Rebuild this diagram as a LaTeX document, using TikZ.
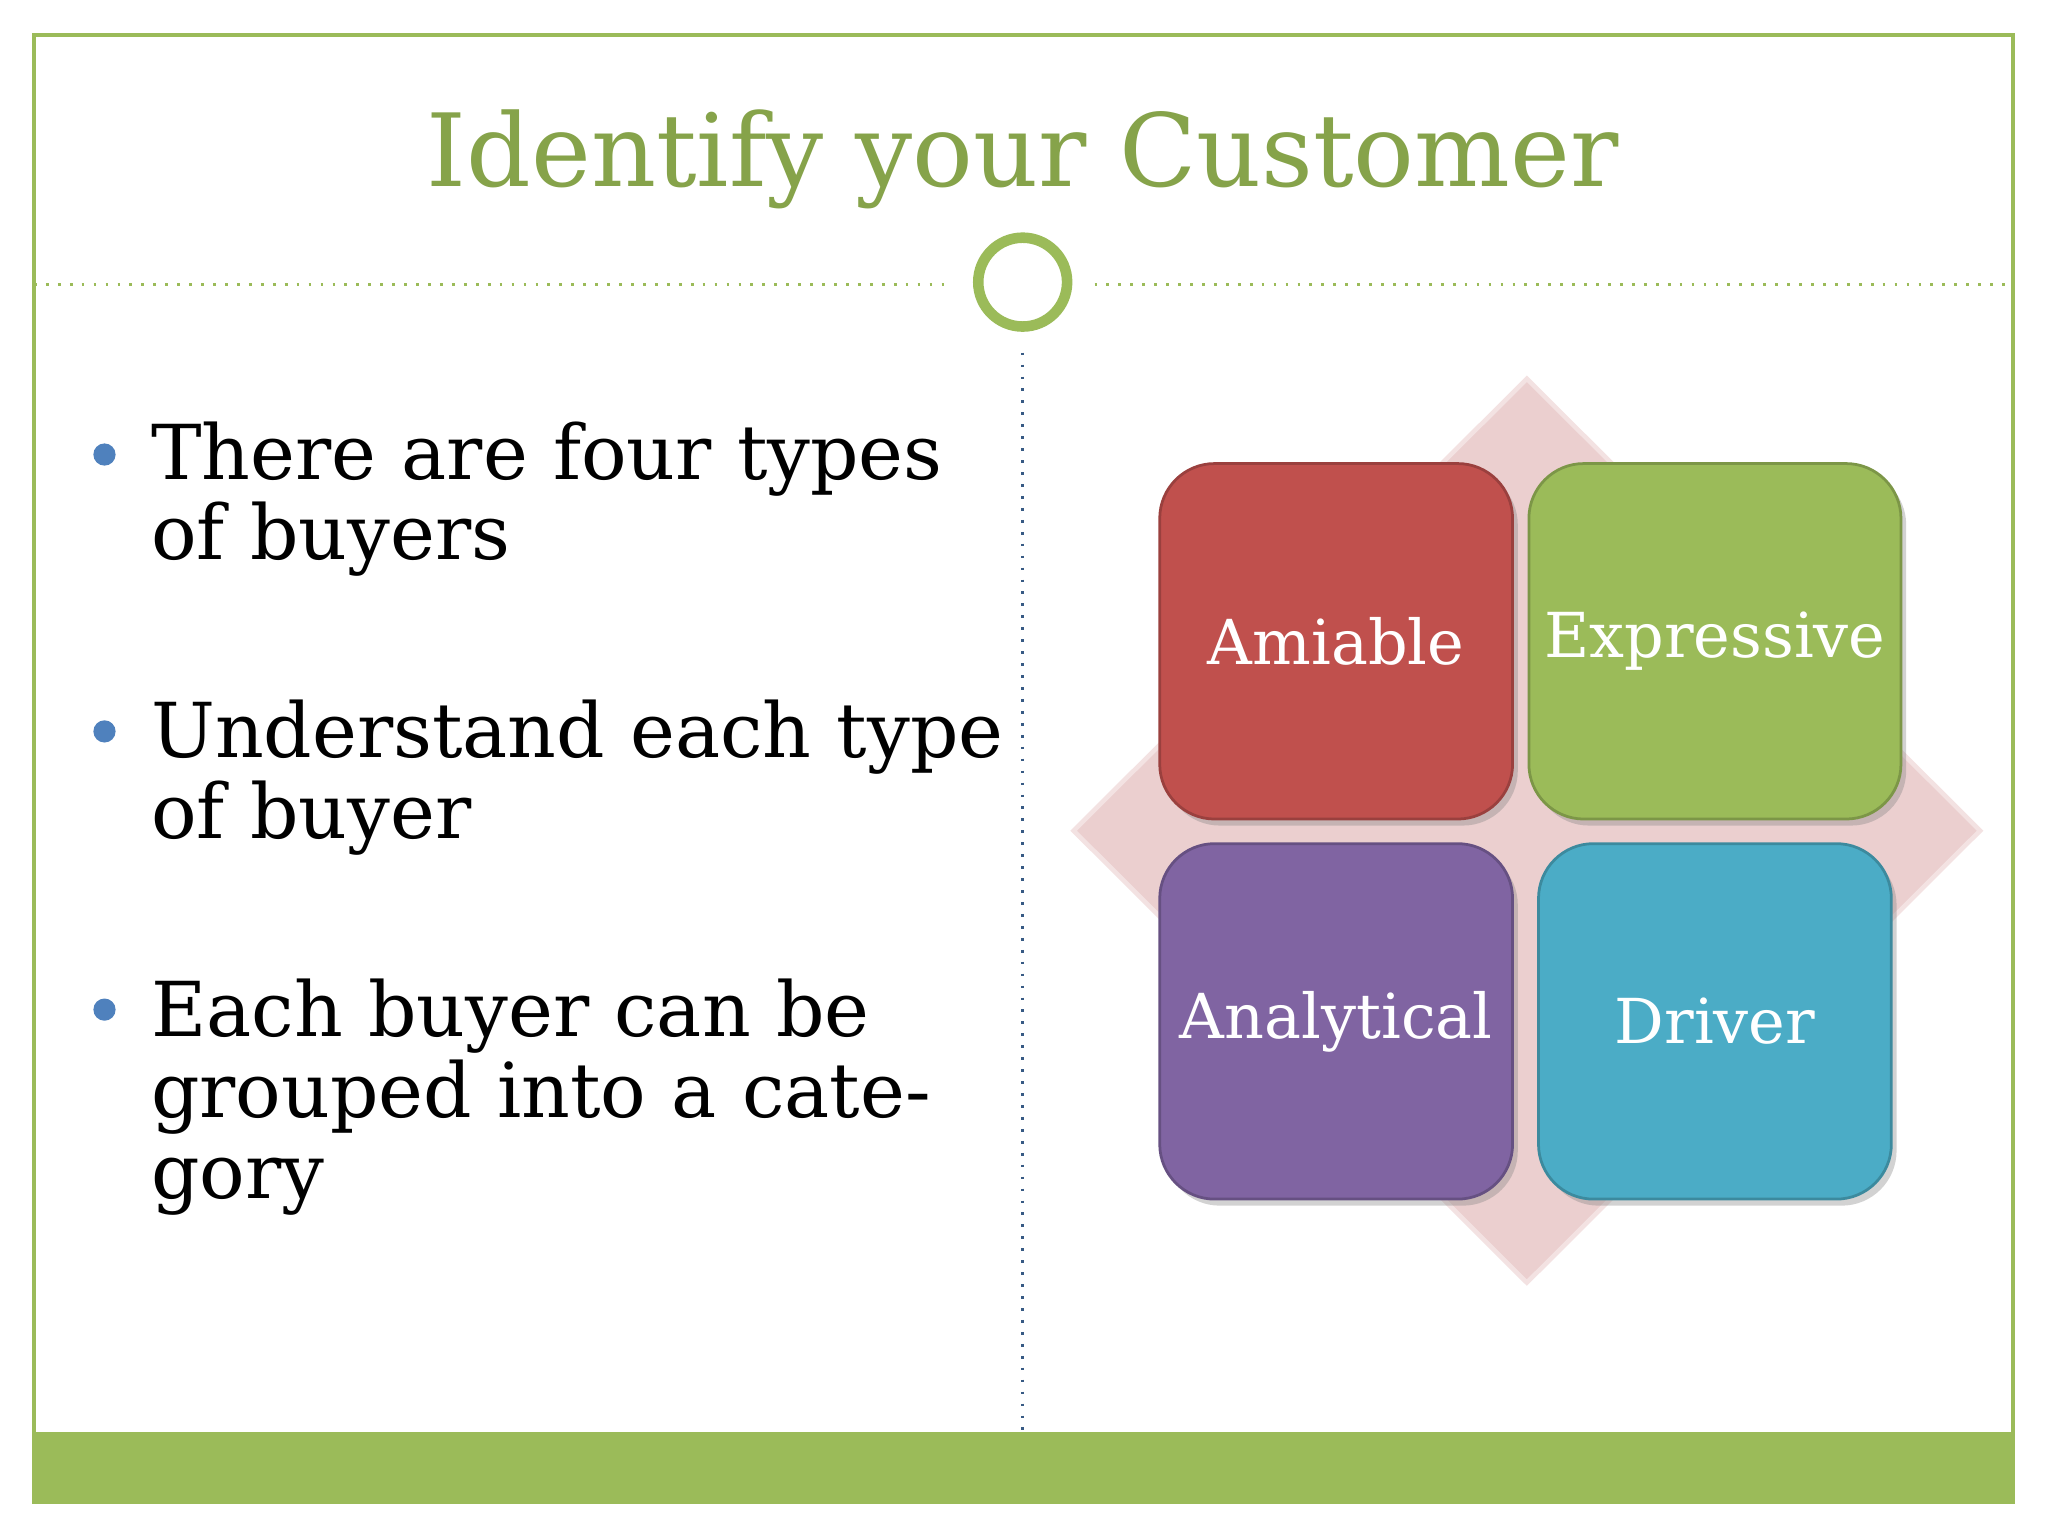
\documentclass[tikz,border=0pt]{standalone}
\usepackage{fontspec}
\setmainfont{DejaVu Serif}
\usetikzlibrary{shadows}
\definecolor{grn}{HTML}{9BBB59}
\definecolor{ttl}{HTML}{86A34A}
\definecolor{red1}{HTML}{C0504D}
\definecolor{pur1}{HTML}{8064A2}
\definecolor{blu1}{HTML}{4BACC6}
\definecolor{pnk}{HTML}{EBCFCF}
\definecolor{bul}{HTML}{4F81BD}
\tikzset{
 tile/.style={rounded corners=0.42cm, minimum width=2.7cm, minimum height=2.72cm, draw=#1!80!black, line width=0.6pt, fill=#1, drop shadow={opacity=0.35,shadow xshift=0.04cm,shadow yshift=-0.05cm}, text=white, font=\fontsize{13.5pt}{16pt}\selectfont},
 btxt/.style={anchor=north west, align=left, text width=6.6cm, inner sep=0pt, font=\fontsize{16.5pt}{17.6pt}\selectfont},
 bdot/.style={circle, fill=bul, inner sep=0pt, minimum size=0.17cm}
}
\begin{document}
\begin{tikzpicture}[x=0.01cm,y=-0.01cm]
\useasboundingbox[fill=white] (0,0) rectangle (1568,1176);
\fill[grn] (26,1096) rectangle (1541,1150);
\draw[grn, line width=0.8pt] (26,27) rectangle (1541,1150);
\node[text=ttl, font=\fontsize{22pt}{26pt}\selectfont] (title) at (783,122) {Identify your Customer};
\draw[grn, dotted, line width=0.6pt] (26,218) -- (730,218);
\draw[grn, dotted, line width=0.6pt] (838,218) -- (1541,218);
\node[circle, draw=grn, line width=2.3pt, minimum size=0.68cm] (ring) at (783,216) {};
\draw[bul!70!black, dotted, line width=0.6pt] (783,270) -- (783,1096);
% bullets
\node[bdot] (d1) at (80,348) {};
\node[btxt] (t1) at (115,322) {There are four types of buyers};
\node[bdot] (d2) at (80,560) {};
\node[btxt] (t2) at (115,535) {Understand each type of buyer};
\node[bdot] (d3) at (80,773) {};
\node[btxt] (t3) at (115,749) {Each buyer can be grouped into a category};
% diamond
\filldraw[fill=pnk, draw=pnk!60!white, line width=1pt] (1169,290) -- (1516,636) -- (1169,982) -- (822,636) -- cycle;
\node[tile=red1] (am) at (1023,491) {Amiable};
\node[tile=grn] (ex) at (1313,491) {Expressive};
\node[tile=pur1] (an) at (1023,782) {Analytical};
\node[tile=blu1] (dr) at (1313,782) {Driver};
\end{tikzpicture}
\end{document}
